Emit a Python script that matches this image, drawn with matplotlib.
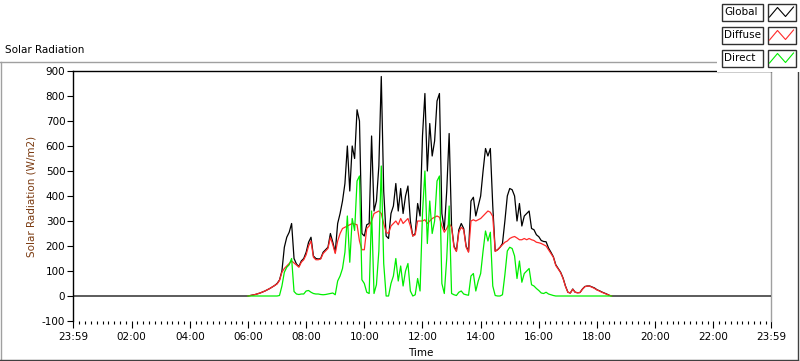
import numpy as np
import matplotlib
matplotlib.use("Agg")
from matplotlib import pyplot as plt
from matplotlib.lines import Line2D
from matplotlib.patches import Rectangle

W, H = 800, 361

# samples every 5 minutes, 06:00 -> 18:30
start_hour = 6.0
step_min = 5

global_rad = [
    0, 2, 4, 6, 9, 12, 16, 20, 25, 30, 36, 42,
    50, 64, 100, 195, 235, 255, 290, 150, 128, 118, 140, 150,
    175, 215, 235, 160, 150, 148, 150, 175, 185, 195, 250, 215,
    175, 290, 330, 380, 450, 600, 420, 600, 550, 745, 700, 250,
    240, 285, 290, 640, 340, 380, 520, 878, 420, 240, 230, 330,
    360, 450, 340, 430, 330, 400, 440, 300, 240, 250, 370, 320,
    640, 810, 500, 690, 560, 620, 780, 810, 330, 265, 420, 650,
    280, 200, 180, 265, 290, 270, 200, 178, 380, 395, 320, 360,
    400, 500, 590, 560, 590, 360, 180, 185, 195, 210, 300, 400,
    430, 425, 400, 300, 370, 280, 320, 330, 340, 270, 265, 245,
    237, 222, 218, 217, 192, 175, 157, 125, 110, 95, 72, 40,
    15, 12, 28, 15, 13, 14, 28, 38, 40, 40, 36, 32,
    25, 21, 16, 12, 8, 3, 0,
]

diffuse_rad = [
    0, 2, 4, 6, 9, 12, 16, 20, 25, 30, 36, 42,
    48, 62, 95, 110, 120, 130, 140, 132, 124, 115, 135, 145,
    165, 200, 220, 155, 145, 145, 148, 170, 180, 190, 235, 205,
    170, 220, 250, 270, 275, 280, 285, 290, 288, 285, 220, 185,
    185, 270, 280, 300, 330, 335, 340, 330, 290, 255, 250, 280,
    290, 300, 285, 310, 290, 300, 310, 280, 240, 245, 300, 300,
    300, 305, 290, 300, 310, 315, 320, 315, 280, 255, 270, 290,
    275, 195, 178, 255, 275, 265, 195, 175, 300, 305, 300, 305,
    310, 320, 330, 340, 335, 318, 178, 185, 195, 205, 215, 220,
    230, 235, 238, 232, 225, 225, 230, 225, 230, 225, 222, 215,
    213, 210, 205, 200, 185, 170, 155, 122, 108, 93, 70, 38,
    15, 12, 27, 15, 13, 14, 27, 37, 40, 39, 35, 30,
    24, 20, 15, 11, 7, 3, 0,
]

direct_rad = [
    0, 0, 0, 0, 0, 0, 0, 0, 0, 0, 0, 0,
    0, 2, 40, 95, 115, 125, 150, 18, 8, 6, 8, 8,
    20, 22, 15, 10, 8, 8, 6, 5, 6, 8, 10, 12,
    5, 60, 80, 110, 175, 320, 135, 310, 262, 460, 480, 65,
    50, 15, 10, 340, 10, 45, 180, 520, 130, 0, 0, 50,
    80, 150, 60, 120, 40, 100, 130, 20, 0, 5, 70, 20,
    330, 500, 210, 380, 250, 300, 460, 480, 50, 10, 150, 360,
    10, 5, 2, 15, 20, 8, 5, 3, 80, 90, 20, 60,
    90, 180, 260, 220, 255, 40, 2, 0, 0, 5, 85, 180,
    195, 190, 160, 70, 140, 55, 90, 100, 110, 45, 40, 30,
    22, 12, 10, 15, 8, 5, 2, 0, 0, 0, 0, 0,
    0, 0, 0, 0, 0, 0, 0, 0, 0, 0, 0, 0,
    0, 0, 0, 0, 0, 0, 0,
]

# axis runs 23:59 -> 23:59 (hours since midnight)
x_start = -1 / 60
x_end = 24 - 1 / 60
tick_hours = [x_start, 2, 4, 6, 8, 10, 12, 14, 16, 18, 20, 22, x_end]
tick_labels = ["23:59", "02:00", "04:00", "06:00", "08:00", "10:00", "12:00",
               "14:00", "16:00", "18:00", "20:00", "22:00", "23:59"]
y_ticks = [-100, 0, 100, 200, 300, 400, 500, 600, 700, 800, 900]

legend_names = ["Global", "Diffuse", "Direct"]
colors = ["#000000", "#ff2a2a", "#00ee00"]

plt.rcParams['font.family'] = ['DejaVu Sans']
FS = 7.5


def fx(px):
    return px / W


def fy(py):
    return 1 - py / H


def fig_line(fig, x0, y0, x1, y1, color, lw=1.0):
    fig.add_artist(Line2D([fx(x0), fx(x1)], [fy(y0), fy(y1)], color=color,
                          lw=lw, transform=fig.transFigure))


fig = plt.figure(figsize=(W / 100, H / 100), dpi=100)

t = start_hour + np.arange(len(global_rad)) * step_min / 60
t_full = np.concatenate([[x_start], t, [x_end]])
g_full = np.concatenate([[0], global_rad, [0]])

left, right, top, bottom = 73, 771, 71, 321
ax = fig.add_axes([fx(left), fy(bottom), (right - left) / W, (bottom - top) / H])

ax.plot(t_full, g_full, color=colors[0], lw=0.9, zorder=3)
ax.plot(t, diffuse_rad, color=colors[1], lw=0.9, zorder=4)
ax.plot(t, direct_rad, color=colors[2], lw=0.9, zorder=5)

ax.set_xlim(x_start, x_end)
ax.set_ylim(-100, 900)
ax.set_xticks(tick_hours)
ax.set_xticklabels(tick_labels, fontsize=FS)
ax.set_xticks(np.arange(0.2, 24, 0.2), minor=True)
ax.set_yticks(y_ticks)
ax.set_yticklabels([str(v) for v in y_ticks], fontsize=FS)
ax.tick_params(axis='x', which='major', length=5, width=0.8, pad=3)
ax.tick_params(axis='x', which='minor', length=2.5, width=0.8)
ax.tick_params(axis='y', which='major', length=4, width=0.8, pad=1.5)

for side in ['top', 'left']:
    ax.spines[side].set_color('black')
    ax.spines[side].set_linewidth(1.0)
ax.spines['right'].set_color('#a0a0a0')
ax.spines['right'].set_linewidth(1.0)
ax.spines['bottom'].set_visible(False)

# panel frame
fig_line(fig, 0, 62, 717, 62, '#a0a0a0')
fig_line(fig, 0.5, 62, 0.5, 360, '#a0a0a0')
fig_line(fig, 0, 359.5, 798, 359.5, '#404040')
fig_line(fig, 797.5, 72, 797.5, 360, '#404040')

fig.text(fx(5), fy(50), "Solar Radiation", fontsize=FS, va='center', ha='left')
fig.text(fx(32), fy(196), "Solar Radiation (W/m2)", fontsize=FS, rotation=90,
         va='center', ha='center', color='#7a3a10')
fig.text(fx(421), fy(353), "Time", fontsize=FS, va='center', ha='center')

# legend block in top right corner
fig.add_artist(Rectangle((fx(717), fy(72)), (W - 717) / W, 72 / H,
                         transform=fig.transFigure, facecolor='white',
                         edgecolor='none', zorder=5))
fig_line(fig, 717.5, 0, 717.5, 72, '#c8c8c8')
row_tops = [3.5, 26.5, 49.5]
for name, color, rt in zip(legend_names, colors, row_tops):
    fig.add_artist(Rectangle((fx(722), fy(rt + 17)), 41 / W, 17 / H,
                             transform=fig.transFigure, facecolor='white',
                             edgecolor='#303030', lw=1.0, zorder=6))
    fig.text(fx(724), fy(rt + 8.7), name, fontsize=FS, va='center', ha='left',
             zorder=7)
    fig.add_artist(Rectangle((fx(768), fy(rt + 17)), 28 / W, 17 / H,
                             transform=fig.transFigure, facecolor='white',
                             edgecolor='#303030', lw=1.0, zorder=6))
    zx = [769.5, 777.5, 785.5, 793.5]
    zy = [rt + 13.5, rt + 4, rt + 13, rt + 3.5]
    fig.add_artist(Line2D([fx(v) for v in zx], [fy(v) for v in zy], color=color,
                          lw=0.8, transform=fig.transFigure, zorder=7))

fig.savefig("out.png", dpi=100)
